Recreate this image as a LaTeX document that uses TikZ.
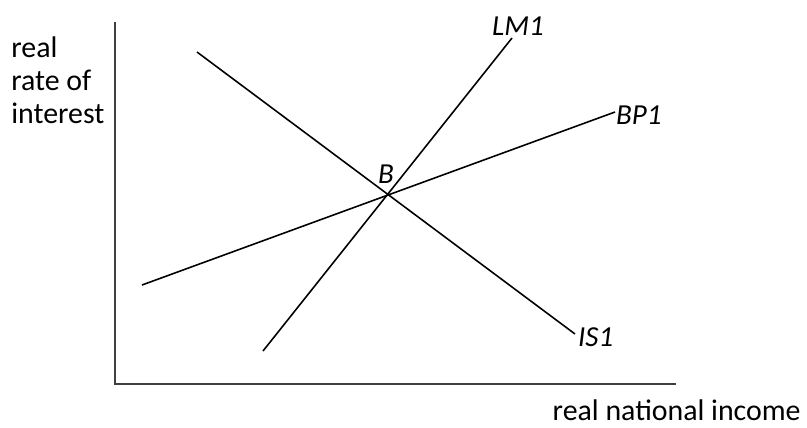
\documentclass[tikz,border=0pt]{standalone}
\usepackage{fontspec}
\setmainfont{Carlito}
\usetikzlibrary{positioning}

\begin{document}
\begin{tikzpicture}[x=0.02cm,y=-0.02cm,
      curve/.style={line width=0.9pt,black},
      axis/.style={line width=0.7pt,black!75},
      lbl/.style={font=\fontsize{16.5}{19}\selectfont\itshape,inner sep=1pt},
      txt/.style={font=\fontsize{17}{18.8}\selectfont,inner sep=0pt,align=left}]

      \useasboundingbox (0,0) rectangle (807,427);

      % Eixos
      \coordinate (top)    at (115,22);
      \coordinate (origin) at (115,384);
      \coordinate (right)  at (676,384);
      \draw[axis] (top) -- (origin) -- (right);

      \node[txt,anchor=west] (ylab) at (11,80) {real\\rate of\\interest};
      \node[txt,anchor=east] (xlab) at (801,410) {real national income};

      % Curvas
      \coordinate (is-a) at (197,52);
      \coordinate (is-b) at (575,334);
      \coordinate (lm-a) at (263,351);
      \coordinate (lm-b) at (512,38);
      \coordinate (bp-a) at (142,285);
      \coordinate (bp-b) at (615,112);
      \draw[curve] (is-a) -- (is-b);
      \draw[curve] (lm-a) -- (lm-b);
      \draw[curve] (bp-a) -- (bp-b);

      \node[lbl,anchor=west]  (is1) at (576,337) {IS1};
      \node[lbl,anchor=south] (lm1) at (518,38)  {LM1};
      \node[lbl,anchor=west]  (bp1) at (614,115) {BP1};
      \node[lbl] (eqb) at (386,174) {B};
    \end{tikzpicture}
\end{document}
